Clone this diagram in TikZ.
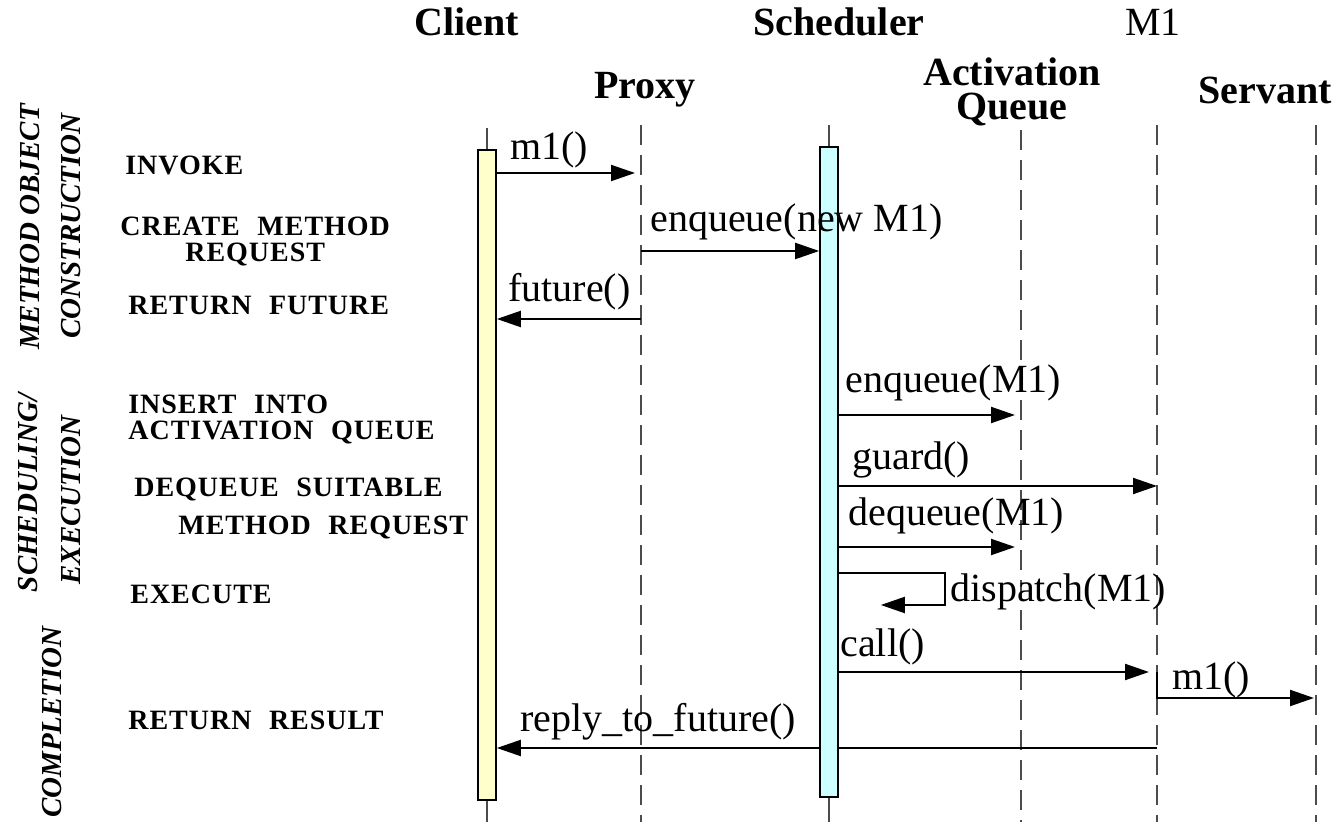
\documentclass[tikz,border=0pt]{standalone}
\usepackage{fontspec}
\setmainfont{Liberation Serif}
\newfontfamily\stepfont[LetterSpace=3.5,WordSpace=2.2]{Liberation Serif}
\usetikzlibrary{arrows.meta,backgrounds}
\definecolor{barYellow}{RGB}{255,255,204}
\definecolor{barCyan}{RGB}{204,255,255}

\begin{document}
\begin{tikzpicture}[x=0.5pt,y=-0.5pt,
	lifeline/.style={gray!60!black,line width=1pt},
	dashline/.style={lifeline,dash pattern=on 10pt off 5pt},
	bar/.style={draw=black,line width=0.8pt,minimum width=9pt,minimum height=325pt,inner sep=0pt},
	msg/.style={line width=1pt,-{Triangle[length=12pt,width=8pt]}},
	head/.style={font=\bfseries\fontsize{20}{17}\selectfont,align=center},
	call/.style={font=\fontsize{20}{24}\selectfont,anchor=west,inner sep=0pt},
	stepname/.style={font=\stepfont\bfseries\fontsize{14}{13}\selectfont,anchor=west,inner sep=0pt},
	phase/.style={font=\bfseries\itshape\fontsize{14.5}{15}\selectfont,rotate=90}]
	\useasboundingbox (0,0) rectangle (1338,822);
	\node[head] (client) at (467,22) {Client};
	\node[head] (sched) at (839,22) {Scheduler};
	\node[head,font=\fontsize{20}{17}\selectfont] (mobj) at (1153,22) {M1};
	\node[head] (proxy) at (645,90) {Proxy};
	\node[head,inner sep=0pt] (queue) at (1012,92) {Activation\\Queue};
	\node[head] (servant) at (1265,90) {Servant};
	\coordinate (cl) at (487,128);
	\coordinate (px) at (641,125);
	\coordinate (sc) at (829,125);
	\coordinate (aq) at (1021,130);
	\coordinate (mo) at (1157,125);
	\coordinate (sv) at (1316,125);
	\node[bar,fill=barYellow] (clbar) at (487,475) {};
	\node[bar,fill=barCyan] (scbar) at (829,472) {};
	\begin{scope}[on background layer]
		\draw[lifeline] (cl) -- (cl |- 0,822);
		\draw[lifeline] (sc) -- (sc |- 0,822);
		\foreach \l in {px,aq,mo,sv}
			\draw[dashline] (\l) -- (\l |- 0,822);
		\draw[msg] (mo |- 0,748) -- (clbar.east |- 0,748);
	\end{scope}
	\draw[msg,shorten >=3pt] (clbar.east |- 0,173) -- (px |- 0,173);
	\draw[msg] (px |- 0,251) -- (scbar.west |- 0,251);
	\draw[msg] (px |- 0,319) -- (clbar.east |- 0,319);
	\draw[msg,shorten >=3pt] (scbar.east |- 0,415) -- (aq |- 0,415);
	\draw[msg] (scbar.east |- 0,486) -- (mo |- 0,486);
	\draw[msg,shorten >=3pt] (scbar.east |- 0,547) -- (aq |- 0,547);
	\draw[msg] (scbar.east |- 0,573) -- ++(106,0) -- ++(0,32) -- ++(-64,0);
	\draw[msg,shorten >=4pt] (scbar.east |- 0,672) -- (mo |- 0,672);
	\draw[msg,shorten >=1pt] (mo |- 0,672) |- (sv |- 0,698);
	\node[call] (c1) at (510,150) {m1()};
	\node[call] (c2) at (650,222) {enqueue(new M1)};
	\node[call] (c3) at (508,292) {future()};
	\node[call] (c4) at (845,383) {enqueue(M1)};
	\node[call] (c5) at (852,460) {guard()};
	\node[call] (c6) at (848,516) {dequeue(M1)};
	\node[call] (c7) at (950,592) {dispatch(M1)};
	\node[call] (c8) at (840,647) {call()};
	\node[call] (c9) at (1172,680) {m1()};
	\node[call] (c10) at (520,722) {reply\_to\_future()};
	\node[stepname] (s1) at (125,165) {INVOKE};
	\node[stepname,align=center] (s2) at (120,242) {CREATE METHOD\\REQUEST};
	\node[stepname] (s3) at (128,305) {RETURN FUTURE};
	\node[stepname,align=left] (s4) at (128,420) {INSERT INTO\\ACTIVATION QUEUE};
	\node[stepname,align=left] (s5) at (134,509) {DEQUEUE SUITABLE\\[6pt]\hspace{22pt}METHOD REQUEST};
	\node[stepname] (s6) at (130,594) {EXECUTE};
	\node[stepname] (s7) at (128,720) {RETURN RESULT};
	\node[phase] (p1) at (30,227) {METHOD OBJECT};
	\node[phase] (p2) at (71,226) {CONSTRUCTION};
	\node[phase] (p3) at (28,493) {SCHEDULING/};
	\node[phase] (p4) at (71,500) {EXECUTION};
	\node[phase] (p5) at (52,722) {COMPLETION};
\end{tikzpicture}
\end{document}
